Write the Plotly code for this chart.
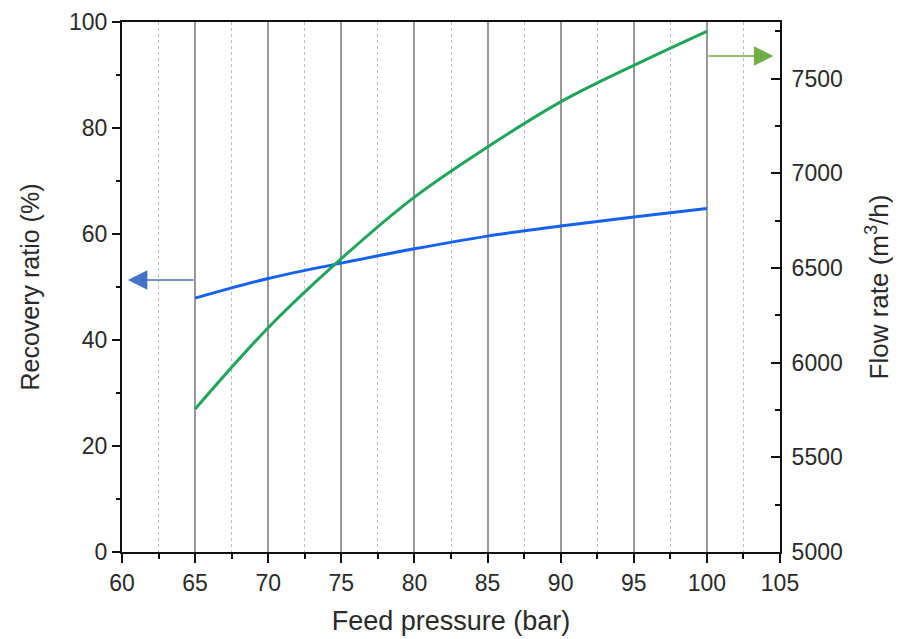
import plotly.graph_objects as go

pressure = [65, 70, 75, 80, 85, 90, 95, 100]
recovery = [47.9, 51.6, 54.5, 57.2, 59.6, 61.5, 63.2, 64.8]
flow = [5755, 6185, 6550, 6875, 7140, 7378, 7571, 7751]

x_ticks = [60, 65, 70, 75, 80, 85, 90, 95, 100, 105]
y1_ticks = [0, 20, 40, 60, 80, 100]
y2_ticks = [5000, 5500, 6000, 6500, 7000, 7500]

FONT = "Liberation Sans, Arial, sans-serif"

fig = go.Figure()
fig.add_trace(go.Scatter(x=pressure, y=recovery, mode="lines", line=dict(color="#1662EE", width=3, shape="spline"),
                         yaxis="y", showlegend=False))
fig.add_trace(go.Scatter(x=pressure, y=flow, mode="lines", line=dict(color="#1FA55C", width=3, shape="spline"),
                         yaxis="y2", showlegend=False))

fig.update_layout(
    width=901, height=639,
    margin=dict(l=114, r=129, t=14, b=95),
    paper_bgcolor="white", plot_bgcolor="white",
    font=dict(family=FONT, size=20, color="#2a2a2a"),
    xaxis=dict(
        range=[60, 105], tickvals=x_ticks, ticktext=[str(v) for v in x_ticks],
        automargin=False,
        showline=True, linecolor="#111", linewidth=2, mirror=True,
        ticks="outside", ticklen=9, tickwidth=2, tickcolor="#111",
        showgrid=True, gridcolor="#999999", gridwidth=1.5,
        minor=dict(dtick=2.5, tick0=60, ticks="outside", ticklen=5, tickwidth=1.5, tickcolor="#111",
                   showgrid=True, gridcolor="#bdbdbd", gridwidth=1.3, griddash="dot"),
        zeroline=False,
        title=dict(text="Feed pressure (bar)", font=dict(size=27, family=FONT, color="#2a2a2a"), standoff=17),
        tickfont=dict(size=23),
    ),
    yaxis=dict(
        range=[0, 100], tickvals=y1_ticks, ticktext=[str(v) for v in y1_ticks],
        automargin=False,
        showline=True, linecolor="#111", linewidth=2,
        ticks="outside", ticklen=8, tickwidth=2, tickcolor="#111",
        showgrid=False, zeroline=False,
        minor=dict(dtick=10, tick0=0, ticks="outside", ticklen=4, tickwidth=1.5, tickcolor="#111", showgrid=False),
        title=dict(text="Recovery ratio (%)", font=dict(size=25, family=FONT, color="#2a2a2a"), standoff=22),
        tickfont=dict(size=23),
    ),
    yaxis2=dict(
        range=[5000, 7800], tickvals=y2_ticks, ticktext=[str(v) for v in y2_ticks],
        automargin=False,
        overlaying="y", side="right",
        showline=True, linecolor="#111", linewidth=2,
        ticks="inside", ticklen=9, tickwidth=2, tickcolor="#111",
        ticklabelstandoff=5,
        showgrid=False, zeroline=False,
        minor=dict(dtick=250, tick0=5000, ticks="inside", ticklen=5, tickwidth=1.5, tickcolor="#111", showgrid=False),
        title=dict(text="Flow rate (m<sup>3</sup>/h)", font=dict(size=26, family=FONT, color="#2a2a2a"), standoff=28),
        tickfont=dict(size=23),
    ),
    annotations=[
        dict(x=60.4, y=51.3, xref="x", yref="y", ax=65, ay=51.3, axref="x", ayref="y",
             showarrow=True, arrowhead=2, arrowsize=2.6, arrowwidth=1.5, arrowcolor="#4472C4", text=""),
        dict(x=104.55, y=7620, xref="x", yref="y2", ax=100, ay=7620, axref="x", ayref="y2",
             showarrow=True, arrowhead=2, arrowsize=2.6, arrowwidth=1.5, arrowcolor="#70AD47", text=""),
    ],
)

fig.write_html("out.html")
